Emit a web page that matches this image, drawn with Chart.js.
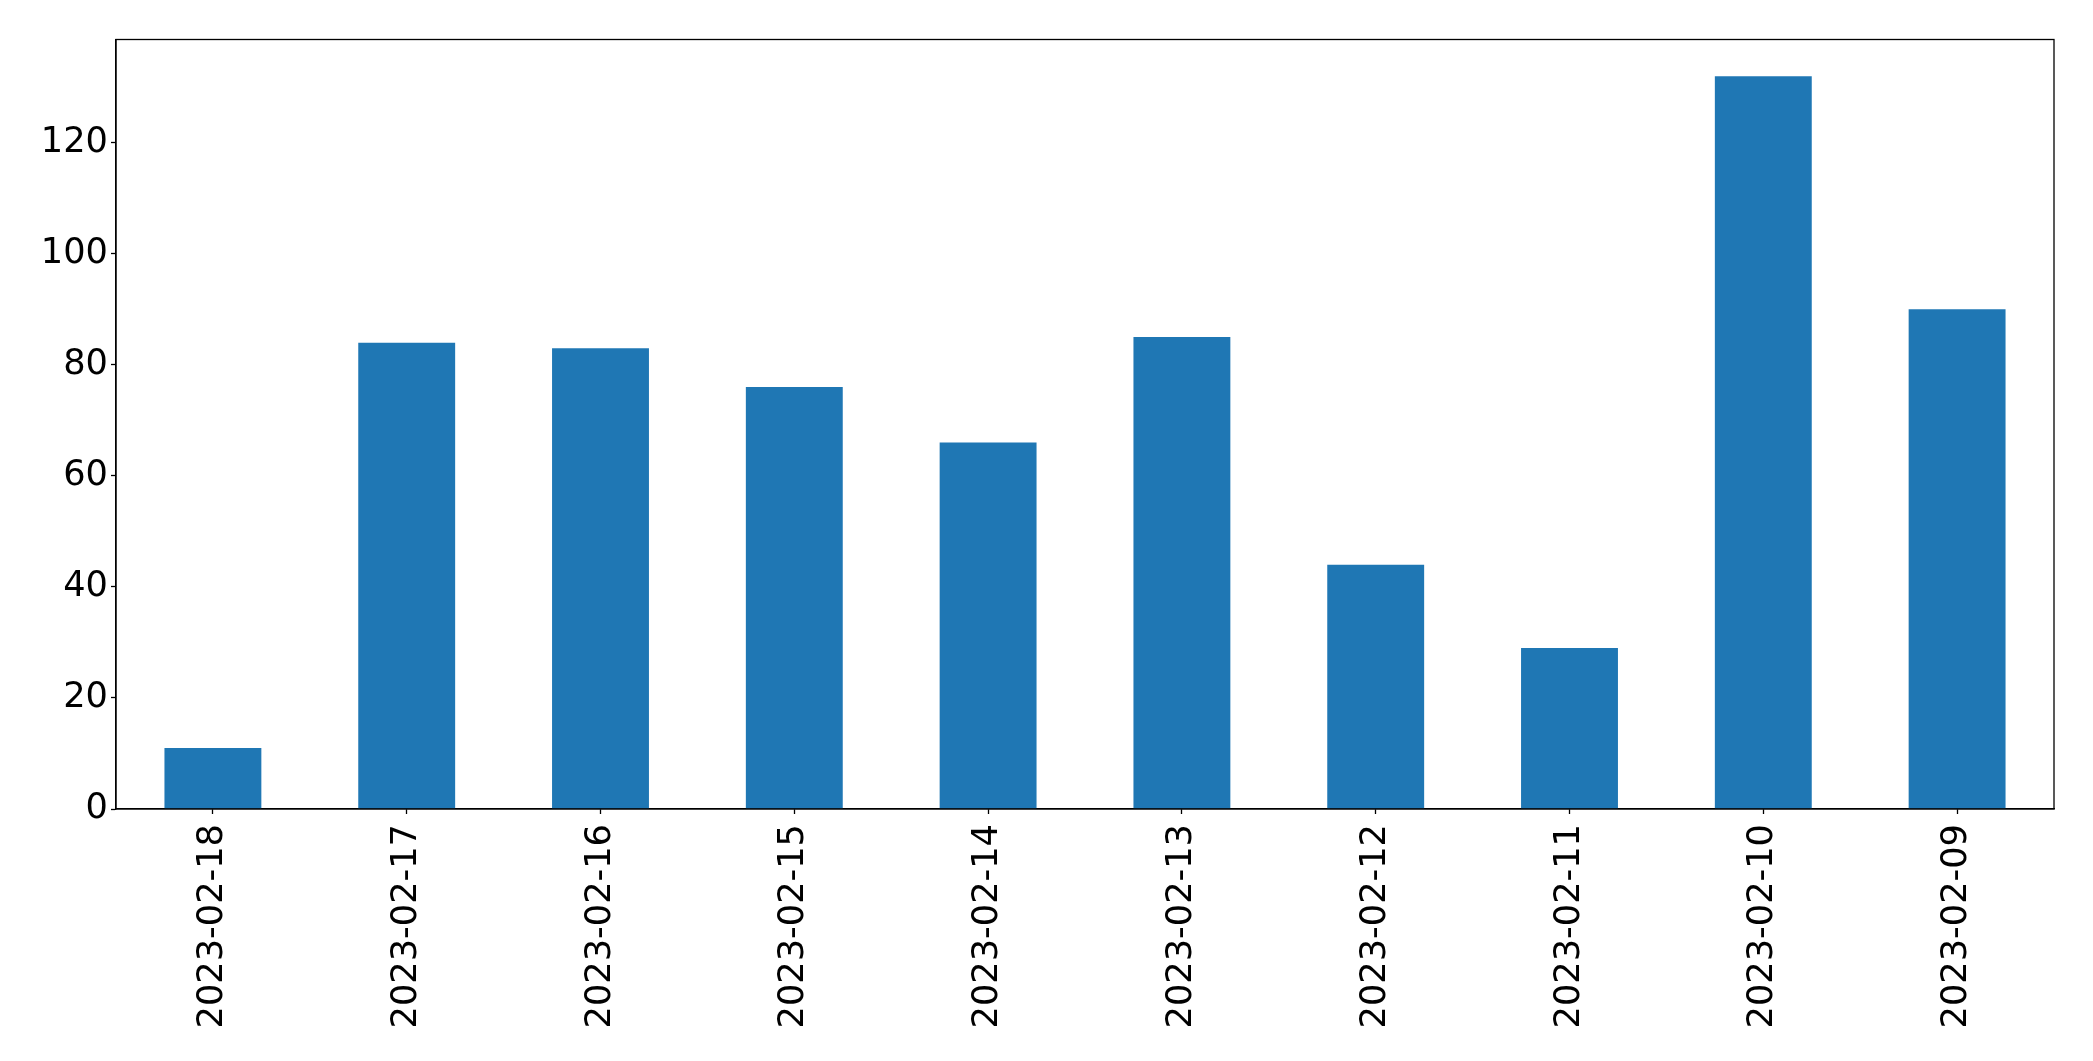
<!DOCTYPE html>
<html>
<head>
<meta charset="utf-8">
<script src="https://cdn.jsdelivr.net/npm/chart.js@4/dist/chart.umd.min.js"></script>
<style>
html,body{margin:0;padding:0;background:#fff;}
#wrap{width:2093px;height:1061px;position:relative;}
</style>
</head>
<body>
<div id="wrap"><canvas id="c" width="2093" height="1061"></canvas></div>
<script>
const categories = ["2023-02-18","2023-02-17","2023-02-16","2023-02-15","2023-02-14","2023-02-13","2023-02-12","2023-02-11","2023-02-10","2023-02-09"];
const values = [11, 84, 83, 76, 66, 85, 44, 29, 132, 90];
const yTicks = [0, 20, 40, 60, 80, 100, 120];
const yMax = 138.6;

const FONT = "'DejaVu Sans', sans-serif";
const frame = {
  id: 'frame',
  afterDraw(chart) {
    const a = chart.chartArea, ctx = chart.ctx;
    ctx.save();
    ctx.strokeStyle = '#000';
    ctx.lineWidth = 1.3;
    ctx.strokeRect(a.left, a.top, a.right - a.left, a.bottom - a.top);
    ctx.restore();
  }
};

new Chart(document.getElementById('c'), {
  type: 'bar',
  data: {
    labels: categories,
    datasets: [{ data: values, backgroundColor: '#1f77b4', borderWidth: 0, categoryPercentage: 0.5, barPercentage: 1.0 }]
  },
  options: {
    responsive: false,
    animation: false,
    devicePixelRatio: 1,
    layout: { padding: { left: 0, top: 39.5, right: 39, bottom: 0 } },
    plugins: { legend: { display: false }, tooltip: { enabled: false } },
    scales: {
      x: {
        offset: true,
        grid: { display: true, drawOnChartArea: false, offset: false, tickLength: 5, tickColor: '#000', tickWidth: 1.3 },
        border: { display: true, color: '#000', width: 1.3 },
        ticks: { color: '#000', font: { family: FONT, size: 35.2 }, minRotation: 90, maxRotation: 90, autoSkip: false, padding: 10 },
        afterFit(s) { s.height = 252; }
      },
      y: {
        min: 0, max: yMax,
        grid: { display: true, drawOnChartArea: false, tickLength: 5, tickColor: '#000', tickWidth: 1.3 },
        border: { display: true, color: '#000', width: 1.3 },
        ticks: { color: '#000', font: { family: FONT, size: 35.2 }, stepSize: 20, padding: 3 },
        afterBuildTicks(s) { s.ticks = yTicks.map(v => ({ value: v })); },
        afterFit(s) { s.width = 116; }
      }
    }
  },
  plugins: [frame]
});
</script>
</body>
</html>
